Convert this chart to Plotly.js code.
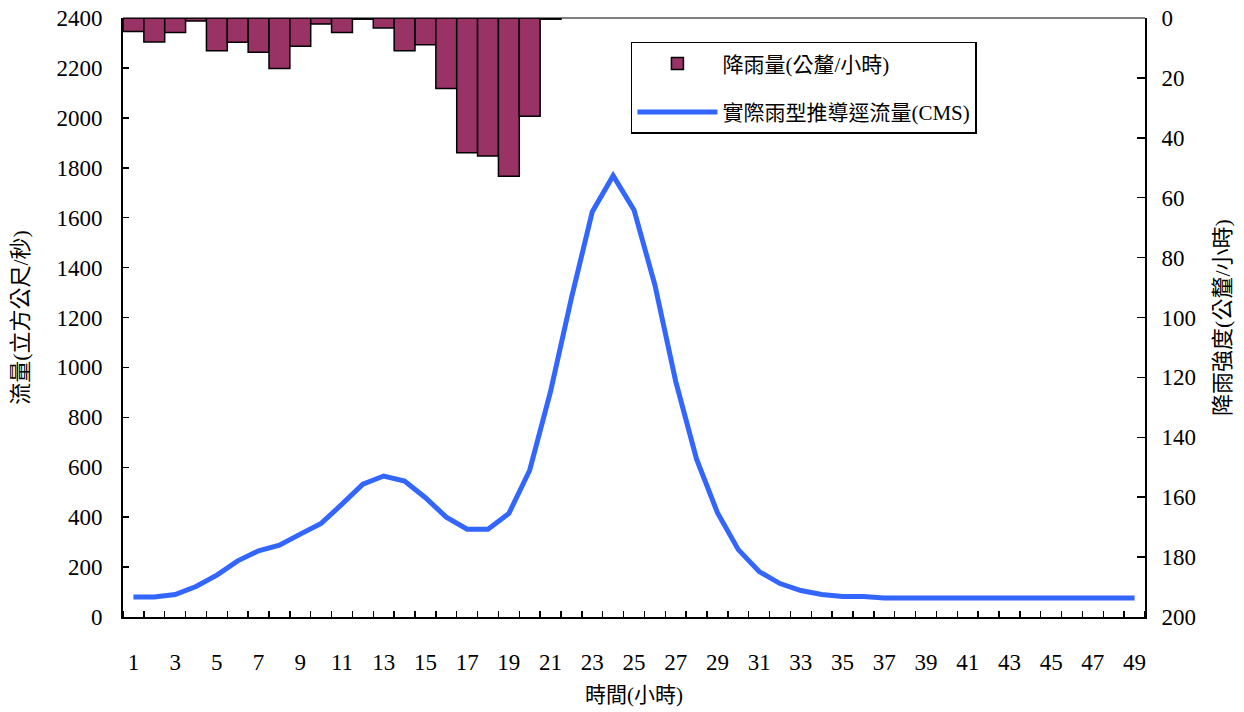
<!DOCTYPE html>
<html>
<head>
<meta charset="utf-8">
<script src="https://cdn.plot.ly/plotly-3.0.1.min.js"></script>
<style>
  html, body { margin: 0; padding: 0; background: #fff; }
  #chart { width: 1244px; height: 712px; }
</style>
</head>
<body>
<div id="chart"></div>
<script>
// hours on the x axis
const hours = [1, 2, 3, 4, 5, 6, 7, 8, 9, 10, 11, 12, 13, 14, 15, 16, 17, 18, 19, 20,
    21, 22, 23, 24, 25, 26, 27, 28, 29, 30, 31, 32, 33, 34, 35, 36, 37, 38, 39, 40,
    41, 42, 43, 44, 45, 46, 47, 48, 49];

// rainfall (mm/hr), only the first 21 hours have rain
const rainHours = [1, 2, 3, 4, 5, 6, 7, 8, 9, 10, 11, 12, 13, 14, 15, 16, 17, 18, 19, 20, 21];
const rain = [4.5, 8, 4.8, 1, 10.9, 8.1, 11.4, 16.9, 9.4, 2, 4.8, 0.4, 3.3, 10.9, 8.9,
    23.5, 45, 46.1, 52.8, 32.8, 0.4];

// runoff (cms)
const flow = [80, 80, 90, 122, 168, 225, 265, 288, 332, 375, 452, 532, 565, 545, 478,
    400, 352, 352, 415, 588, 904, 1278, 1624, 1768, 1631, 1331, 944, 632, 418, 270,
    182, 134, 106, 90, 82, 82, 76, 76, 76, 76, 76, 76, 76, 76, 76, 76, 76, 76, 76];

const xTickVals = [1, 3, 5, 7, 9, 11, 13, 15, 17, 19, 21, 23, 25, 27, 29, 31, 33, 35,
    37, 39, 41, 43, 45, 47, 49];

const NUM_FONT = "Liberation Serif, 'Noto Sans CJK TC', serif";

const traces = [
    {
        x: rainHours,
        y: rain,
        type: "bar",
        yaxis: "y2",
        name: "降雨量(公釐/小時)",
        legendgroup: "rain",
        marker: { color: "#993366", line: { color: "#000", width: 1.5 } }
    },
    {
        x: hours,
        y: flow,
        type: "scatter",
        mode: "lines",
        name: "實際雨型推導逕流量(CMS)",
        legendgroup: "flow",
        line: { color: "#3366FF", width: 5 }
    }
];

const layout = {
    width: 1244,
    height: 712,
    margin: { l: 123, r: 99, t: 18, b: 95 },
    paper_bgcolor: "#fff",
    plot_bgcolor: "#fff",
    font: { family: NUM_FONT, color: "#000", size: 23 },
    bargap: 0,
    showlegend: true,
    legend: {
        x: 0.497, y: 0.96, xanchor: "left", yanchor: "top",
        bordercolor: "#000", borderwidth: 1.5, bgcolor: "#fff",
        font: { size: 21, family: NUM_FONT },
        traceorder: "grouped", tracegroupgap: 18,
        itemwidth: 80
    },
    xaxis: {
        range: [0.5, 49.5],
        tickmode: "array",
        tickvals: xTickVals,
        ticks: "",
        ticklabelstandoff: 23,
        showgrid: false, zeroline: false,
        showline: true, linecolor: "#000", linewidth: 2,
        minor: { tick0: 0.5, dtick: 1, ticks: "inside", ticklen: 6, tickwidth: 1.5, tickcolor: "#000", showgrid: false },
        title: { text: "時間(小時)", font: { size: 21 }, standoff: 14 }
    },
    yaxis: {
        range: [0, 2400],
        dtick: 200,
        ticks: "inside", ticklen: 6, tickwidth: 1.5, tickcolor: "#000",
        ticklabelstandoff: 14,
        showgrid: false, zeroline: false,
        showline: true, linecolor: "#000", linewidth: 2,
        title: { text: "流量(立方公尺/秒)", font: { size: 22 }, standoff: 22 }
    },
    yaxis2: {
        overlaying: "y",
        side: "right",
        range: [200, 0],
        dtick: 20,
        ticks: "inside", ticklen: 8, tickwidth: 1.5, tickcolor: "#000",
        ticklabelstandoff: 10,
        showgrid: false, zeroline: false,
        showline: true, linecolor: "#000", linewidth: 2,
        title: { text: "降雨強度(公釐/小時)", font: { size: 22 }, standoff: 20 }
    },
    shapes: [
        // thin frame line along the top of the plot area
        { type: "line", xref: "paper", yref: "paper", x0: 0, x1: 1, y0: 1, y1: 1,
          line: { color: "#000", width: 1 } }
    ]
};

Plotly.newPlot("chart", traces, layout, { staticPlot: true, displayModeBar: false });
</script>
</body>
</html>
